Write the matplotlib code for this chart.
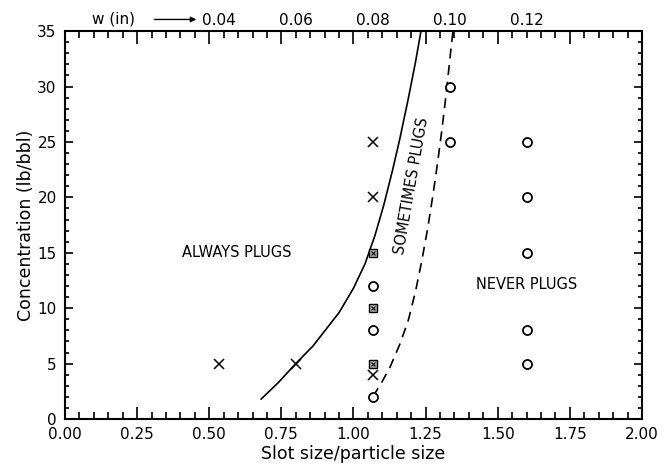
import numpy as np
import matplotlib
matplotlib.use("Agg")
import matplotlib.pyplot as plt
from matplotlib.ticker import MultipleLocator, FormatStrFormatter
from matplotlib.transforms import blended_transform_factory

# slot size / particle size vs concentration (lb/bbl)
always_x = [0.533, 0.80, 1.067, 1.067, 1.067]
always_y = [5, 5, 25, 20, 4]
never_x = [1.067, 1.067, 1.067, 1.333, 1.333, 1.60, 1.60, 1.60, 1.60, 1.60]
never_y = [12, 8, 2, 30, 25, 25, 20, 15, 8, 5]
some_x = [1.067, 1.067, 1.067]
some_y = [15, 10, 5]

# boundary curves
solid_x = [0.68, 0.74, 0.80, 0.86, 0.92, 0.95, 1.00, 1.04, 1.075, 1.105, 1.135, 1.16, 1.19, 1.215, 1.234]
solid_y = [1.8, 3.3, 5.0, 6.6, 8.6, 9.6, 11.8, 14.0, 16.6, 19.3, 22.4, 25.2, 28.9, 32.2, 35.0]
dash_x = [1.067, 1.10, 1.127, 1.16, 1.19, 1.215, 1.237, 1.258, 1.276, 1.292, 1.306, 1.318, 1.329, 1.338, 1.345]
dash_y = [2.0, 3.4, 4.7, 6.7, 8.9, 11.5, 14.3, 17.3, 20.3, 23.2, 26.0, 28.6, 31.2, 33.4, 35.0]

particle_d = 0.075  # in
w_ticks = [0.04, 0.06, 0.08, 0.10, 0.12]

plt.rcParams["font.family"] = ["DejaVu Sans"]

fig = plt.figure(figsize=(6.68, 4.71), dpi=100)
ax = fig.add_axes([0.0973, 0.1104, 0.8637, 0.8236])

ax.plot(solid_x, solid_y, color="black", lw=1.2)
ax.plot(dash_x, dash_y, color="black", lw=1.2, dashes=(6, 4))

ax.plot(always_x, always_y, "x", color="black", ms=7, mew=1.1, ls="none")
ax.plot(never_x, never_y, "o", mfc="white", mec="black", ms=6.5, mew=1.3, ls="none")
ax.plot(some_x, some_y, "s", mfc="0.7", mec="black", ms=5.5, mew=1.0, ls="none")
ax.plot(some_x, some_y, "x", color="black", ms=3.2, mew=0.8, ls="none")

ax.text(0.596, 15.0, "ALWAYS PLUGS", ha="center", va="center", fontsize=10.5)
ax.text(1.203, 21.0, "SOMETIMES PLUGS", ha="center", va="center", fontsize=10.5, rotation=80)
ax.text(1.60, 12.1, "NEVER PLUGS", ha="center", va="center", fontsize=10.5)

ax.set_xlim(0, 2.0)
ax.set_ylim(0, 35)
ax.xaxis.set_major_locator(MultipleLocator(0.25))
ax.xaxis.set_minor_locator(MultipleLocator(0.05))
ax.yaxis.set_major_locator(MultipleLocator(5))
ax.yaxis.set_minor_locator(MultipleLocator(1))
ax.xaxis.set_major_formatter(FormatStrFormatter("%.2f"))

ax.tick_params(axis="x", which="both", direction="in", top=True, bottom=True, labelsize=11, width=1.2, pad=6)
ax.tick_params(axis="x", which="major", length=9)
ax.tick_params(axis="x", which="minor", length=5)
ax.tick_params(axis="y", which="both", direction="in", left=True, right=True, labelsize=11, width=1.2, pad=6)
ax.tick_params(axis="y", which="major", length=6)
ax.tick_params(axis="y", which="minor", length=3)
for s in ax.spines.values():
    s.set_linewidth(1.5)

ax.set_xlabel("Slot size/particle size", fontsize=12.5, labelpad=2)
ax.set_ylabel("Concentration (lb/bbl)", fontsize=12.5, labelpad=2)

top = ax.secondary_xaxis("top", functions=(lambda x: x * particle_d, lambda w: w / particle_d))
top.set_xticks(w_ticks)
top.set_xticklabels([f"{w:.2f}" for w in w_ticks])
top.tick_params(length=0, labelsize=11, pad=2)
top.spines["top"].set_visible(False)

tr = blended_transform_factory(ax.transData, ax.transAxes)
ax.text(0.167, 1.03, "w (in)", transform=tr, ha="center", va="center", fontsize=11)
ax.annotate("", xy=(0.465, 1.03), xytext=(0.30, 1.03), xycoords=tr, textcoords=tr,
            arrowprops=dict(arrowstyle="-|>", color="black", lw=1.0, mutation_scale=8))

fig.savefig("out.png", dpi=100)
